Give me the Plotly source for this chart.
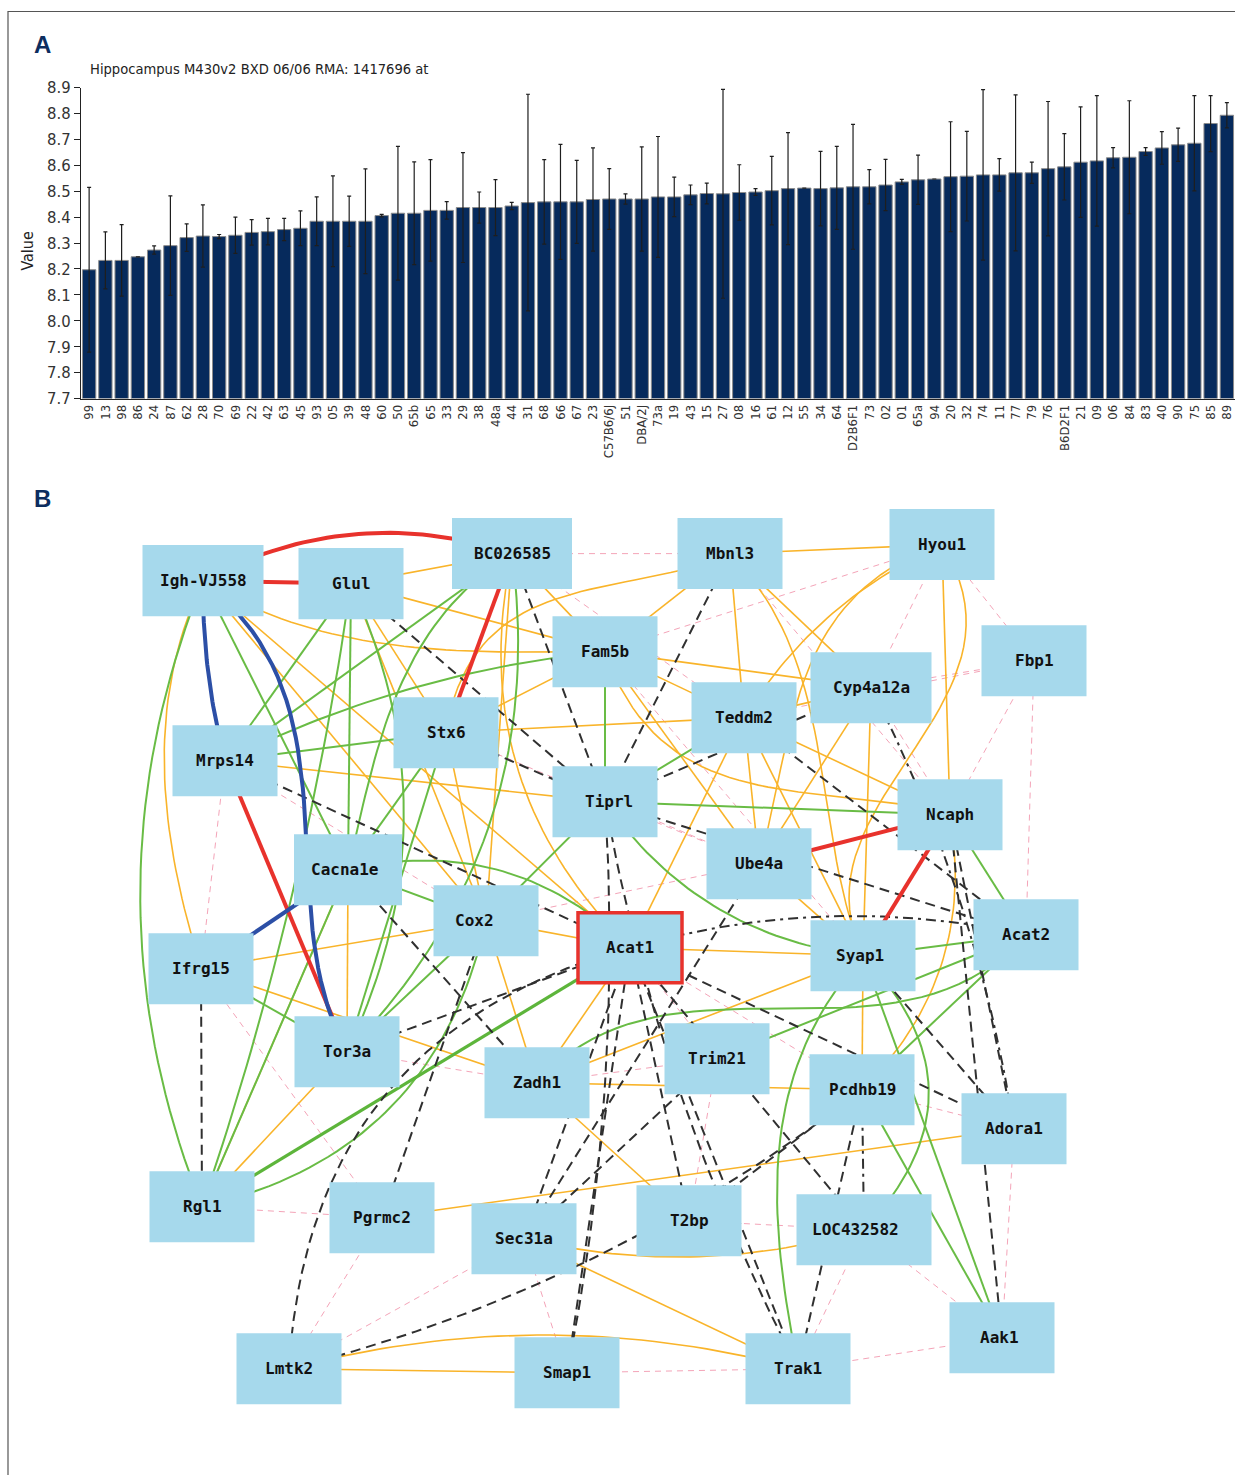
import numpy as np
import plotly.graph_objects as go

# ---------------- Panel A data: expression per strain ----------------
strains = ["99", "13", "98", "86", "24", "87", "62", "28", "70", "69",
           "22", "42", "63", "45", "93", "05", "39", "48", "60", "50",
           "65b", "65", "33", "29", "38", "48a", "44", "31", "68", "66",
           "67", "23", "C57B6/6J", "51", "DBA/2J", "73a", "19", "43", "15", "27",
           "08", "16", "61", "12", "55", "34", "64", "D2B6F1", "73", "02",
           "01", "65a", "94", "20", "32", "74", "11", "77", "79", "76",
           "B6D2F1", "21", "09", "06", "84", "83", "40", "90", "75", "85", "89"]

expression = [8.197, 8.233, 8.233, 8.247, 8.273, 8.290, 8.321, 8.327, 8.325, 8.330,
              8.341, 8.344, 8.352, 8.357, 8.384, 8.384, 8.384, 8.384, 8.406, 8.415,
              8.415, 8.426, 8.426, 8.437, 8.437, 8.437, 8.443, 8.456, 8.459, 8.459,
              8.459, 8.468, 8.470, 8.470, 8.470, 8.478, 8.478, 8.486, 8.491, 8.490,
              8.495, 8.497, 8.502, 8.510, 8.512, 8.510, 8.513, 8.517, 8.517, 8.524,
              8.536, 8.544, 8.547, 8.556, 8.558, 8.563, 8.563, 8.571, 8.571, 8.587,
              8.594, 8.612, 8.617, 8.629, 8.631, 8.653, 8.667, 8.679, 8.685, 8.761, 8.793]

std_err = [0.318, 0.110, 0.138, None, 0.016, 0.192, 0.053, 0.120, 0.008, 0.070,
           0.049, 0.051, 0.043, 0.067, 0.094, 0.175, 0.097, 0.202, 0.005, 0.258,
           0.198, 0.196, 0.034, 0.212, 0.060, 0.108, 0.014, 0.418, 0.163, 0.222,
           0.160, 0.199, 0.117, 0.020, 0.201, 0.233, 0.076, 0.038, 0.040, 0.403,
           0.107, 0.013, 0.132, 0.216, None, 0.144, 0.160, 0.241, 0.066, 0.099,
           0.010, 0.095, None, 0.212, 0.173, 0.329, 0.063, 0.301, 0.041, 0.259,
           0.128, 0.213, 0.252, 0.039, 0.218, 0.015, 0.063, 0.064, 0.184, 0.108, 0.049]

y_ticks = [7.7, 7.8, 7.9, 8.0, 8.1, 8.2, 8.3, 8.4, 8.5, 8.6, 8.7, 8.8, 8.9]

# ---------------- Panel B data: gene network ----------------
genes = ["Igh-VJ558", "Glul", "BC026585", "Mbnl3", "Hyou1", "Fam5b", "Fbp1",
         "Cyp4a12a", "Teddm2", "Stx6", "Mrps14", "Tiprl", "Ncaph", "Ube4a",
         "Cacna1e", "Cox2", "Acat1", "Syap1", "Acat2", "Ifrg15", "Tor3a",
         "Zadh1", "Trim21", "Pcdhb19", "Adora1", "Rgl1", "Pgrmc2", "Sec31a",
         "T2bp", "LOC432582", "Aak1", "Lmtk2", "Smap1", "Trak1"]
focus_gene = "Acat1"

# relation kinds: strong positive (red), strong negative (blue),
# moderate positive (green), weak positive (orange), negative (black dash),
# weak negative (pink dash)
edges = [
    # strong
    ("Igh-VJ558", "BC026585", "red"), ("Igh-VJ558", "Glul", "red"),
    ("BC026585", "Stx6", "red"), ("Mrps14", "Tor3a", "red"),
    ("Ube4a", "Ncaph", "red"), ("Ncaph", "Syap1", "red"),
    ("Igh-VJ558", "Mrps14", "blue"), ("Igh-VJ558", "Tor3a", "blue"),
    ("Ifrg15", "Cacna1e", "blue"),
    # green
    ("Igh-VJ558", "Rgl1", "green"), ("Igh-VJ558", "Cacna1e", "green"),
    ("Glul", "Mrps14", "green"), ("Glul", "Cacna1e", "green"),
    ("Glul", "Rgl1", "green"), ("Glul", "Tor3a", "green"),
    ("Cacna1e", "Rgl1", "green"),
    ("BC026585", "Mrps14", "green"), ("BC026585", "Cacna1e", "green"),
    ("BC026585", "Tor3a", "green"), ("Fam5b", "Mrps14", "green"),
    ("Stx6", "Mrps14", "green"), ("Stx6", "Tor3a", "green"),
    ("Stx6", "Cacna1e", "green"), ("Fam5b", "Tiprl", "green"),
    ("Tiprl", "Ncaph", "green"), ("Tiprl", "Cox2", "green"),
    ("Cacna1e", "Acat1", "green"), ("Cacna1e", "Cox2", "green"),
    ("Teddm2", "Tiprl", "green"), ("Tiprl", "Syap1", "green"),
    ("Syap1", "Acat2", "green"), ("Ncaph", "Acat2", "green"),
    ("Rgl1", "Acat1", "green2"), ("Tor3a", "Ifrg15", "green"),
    ("Tor3a", "Cox2", "green"), ("Cox2", "Rgl1", "green"),
    ("Zadh1", "Acat2", "green"), ("Trim21", "Acat2", "green"),
    ("Syap1", "Trak1", "green"), ("Syap1", "Aak1", "green"),
    ("Pcdhb19", "Aak1", "green"), ("LOC432582", "Syap1", "green"),
    ("Pcdhb19", "Acat2", "green"),
    # orange
    ("Glul", "BC026585", "orange"), ("Mbnl3", "Hyou1", "orange"),
    ("Mbnl3", "Stx6", "orange"), ("Mbnl3", "Fam5b", "orange"),
    ("Mbnl3", "Teddm2", "orange"), ("Mbnl3", "Syap1", "orange"),
    ("Mbnl3", "Cyp4a12a", "orange"), ("Hyou1", "Teddm2", "orange"),
    ("Hyou1", "Ube4a", "orange"), ("Hyou1", "Ncaph", "orange"),
    ("Hyou1", "Syap1", "orange"), ("Fam5b", "Cyp4a12a", "orange"),
    ("Fam5b", "Teddm2", "orange"), ("Fam5b", "Ncaph", "orange"),
    ("Fam5b", "Ube4a", "orange"), ("Stx6", "Teddm2", "orange"),
    ("Teddm2", "Cyp4a12a", "orange"), ("Teddm2", "Ncaph", "orange"),
    ("Teddm2", "Acat1", "orange"), ("Teddm2", "Syap1", "orange"),
    ("Teddm2", "Ube4a", "orange"), ("Cyp4a12a", "Ube4a", "orange"),
    ("Cyp4a12a", "Syap1", "orange"), ("Igh-VJ558", "Fam5b", "orange"),
    ("Mrps14", "Tiprl", "orange"), ("Igh-VJ558", "Acat1", "orange"),
    ("Igh-VJ558", "Cox2", "orange"), ("Igh-VJ558", "Ifrg15", "orange"),
    ("Glul", "Stx6", "orange"), ("Glul", "Fam5b", "orange"),
    ("Glul", "Cox2", "orange"), ("BC026585", "Fam5b", "orange"),
    ("BC026585", "Acat1", "orange"), ("BC026585", "Cox2", "orange"),
    ("Stx6", "Fam5b", "orange"), ("Stx6", "Cox2", "orange"),
    ("Cacna1e", "Tor3a", "orange"), ("Cacna1e", "Rgl1", "orange"),
    ("Tor3a", "Rgl1", "orange"), ("Ifrg15", "Cox2", "orange"),
    ("Ifrg15", "Zadh1", "orange"), ("Cox2", "Acat1", "orange"),
    ("Cox2", "Zadh1", "orange"), ("Acat1", "Zadh1", "orange"),
    ("Acat1", "Syap1", "orange"), ("Zadh1", "Pcdhb19", "orange"),
    ("Zadh1", "T2bp", "orange"), ("Pgrmc2", "Adora1", "orange"),
    ("Sec31a", "LOC432582", "orange"), ("Sec31a", "Trak1", "orange"),
    ("Lmtk2", "Trak1", "orange"), ("Lmtk2", "Smap1", "orange"),
    ("Syap1", "Pcdhb19", "orange"), ("Zadh1", "Syap1", "orange"),
    ("Ncaph", "Pcdhb19", "orange"), ("Ube4a", "Syap1", "orange"),
    # black dashed
    ("Glul", "Tiprl", "black"), ("BC026585", "Tiprl", "black"),
    ("Mbnl3", "Tiprl", "black"), ("Mrps14", "Acat1", "black"),
    ("Stx6", "Tiprl", "black"), ("Cox2", "Pgrmc2", "black"),
    ("Cacna1e", "Zadh1", "black"), ("Tor3a", "Acat1", "black"),
    ("Ifrg15", "Rgl1", "black"), ("Lmtk2", "Acat1", "black"),
    ("Lmtk2", "Pcdhb19", "black"), ("Sec31a", "Acat1", "black"),
    ("Smap1", "Acat1", "black"), ("Acat1", "Trak1", "black"),
    ("Acat1", "Adora1", "black"), ("Acat1", "Acat2", "dashdot"),
    ("Tiprl", "Acat2", "black"), ("Tiprl", "Cyp4a12a", "black"),
    ("Teddm2", "Acat2", "black"), ("Cyp4a12a", "Adora1", "dashdot"),
    ("Ncaph", "Adora1", "black"), ("Ncaph", "Aak1", "black"),
    ("Pcdhb19", "LOC432582", "dashdot"), ("Syap1", "Adora1", "black"),
    ("Ube4a", "Sec31a", "black"), ("T2bp", "Pcdhb19", "black"),
    ("Trak1", "Pcdhb19", "black"), ("Acat1", "LOC432582", "black"),
    ("Acat1", "T2bp", "black"), ("Sec31a", "Trim21", "black"),
    ("Smap1", "Tiprl", "black"), ("Trak1", "Tiprl", "black"),
    # pink dashed
    ("Rgl1", "Pgrmc2", "pink"), ("Trak1", "Aak1", "pink"),
    ("Smap1", "Trak1", "pink"), ("Lmtk2", "Sec31a", "pink"),
    ("Adora1", "Aak1", "pink"), ("LOC432582", "Aak1", "pink"),
    ("LOC432582", "Trak1", "pink"), ("Fbp1", "Ncaph", "pink"),
    ("Fbp1", "Teddm2", "pink"), ("Fbp1", "Acat2", "pink"),
    ("Hyou1", "Fam5b", "pink"), ("Mbnl3", "Ncaph", "pink"),
    ("BC026585", "Mbnl3", "pink"), ("Tiprl", "Ube4a", "pink"),
    ("Cox2", "Tor3a", "pink"), ("Ifrg15", "Mrps14", "pink"),
    ("Cacna1e", "Ifrg15", "pink"), ("Sec31a", "Smap1", "pink"),
    ("Acat1", "Trim21", "pink"), ("Trim21", "T2bp", "pink"),
    ("Pcdhb19", "Adora1", "pink"), ("Hyou1", "Cyp4a12a", "pink"),
    ("Stx6", "Ube4a", "pink"), ("Fam5b", "Syap1", "pink"),
    ("Cox2", "Ube4a", "pink"), ("Zadh1", "Trim21", "pink"),
    ("Pgrmc2", "Lmtk2", "pink"), ("Cyp4a12a", "Ncaph", "pink"),
    ("Ifrg15", "Pgrmc2", "pink"), ("Mrps14", "Cox2", "pink"),
    ("BC026585", "Teddm2", "pink"), ("T2bp", "LOC432582", "pink"),
    ("Fbp1", "Cyp4a12a", "pink"), ("Hyou1", "Fbp1", "pink"),
    ("Acat1", "Pcdhb19", "pink"), ("Tor3a", "Zadh1", "pink"),
]

# ---------------- Network layout (screen units, y downward) ----------------
node_pos = {
    "Igh-VJ558": (203, 580), "Glul": (351, 583), "BC026585": (512, 553),
    "Mbnl3": (730, 553), "Hyou1": (942, 544), "Fam5b": (605, 651),
    "Fbp1": (1034, 660), "Cyp4a12a": (871, 687), "Teddm2": (744, 717),
    "Stx6": (446, 732), "Mrps14": (225, 760), "Tiprl": (605, 801),
    "Ncaph": (950, 814), "Ube4a": (759, 863), "Cacna1e": (348, 869),
    "Cox2": (486, 920), "Acat1": (630, 947), "Syap1": (863, 955),
    "Acat2": (1026, 934), "Ifrg15": (201, 968), "Tor3a": (347, 1051),
    "Zadh1": (537, 1082), "Trim21": (717, 1058), "Pcdhb19": (862, 1089),
    "Adora1": (1014, 1128), "Rgl1": (202, 1206), "Pgrmc2": (382, 1217),
    "Sec31a": (524, 1238), "T2bp": (689, 1220), "LOC432582": (864, 1229),
    "Aak1": (1002, 1337), "Lmtk2": (289, 1368), "Smap1": (567, 1372),
    "Trak1": (798, 1368),
}
node_width = {"Igh-VJ558": 121, "BC026585": 120, "Cyp4a12a": 121,
              "LOC432582": 135, "Cacna1e": 108, "Acat1": 104}
node_height = {"Acat1": 70}
label_dx = {"Cox2": -12, "LOC432582": -9, "Cacna1e": -4, "Syap1": -3,
            "Aak1": -3, "Tiprl": 4}
# perpendicular offsets of cubic control points for curved edges
edge_bend = {
    ("Igh-VJ558", "BC026585"): (-44, -44),
    ("Igh-VJ558", "Mrps14"): (8, 8),
    ("Igh-VJ558", "Tor3a"): (-116, 34),
    ("Igh-VJ558", "Rgl1"): (83, 83),
    ("Glul", "Rgl1"): (-20, -20),
    ("Glul", "Tor3a"): (-73, -73),
    ("BC026585", "Cacna1e"): (70, 30),
    ("BC026585", "Tor3a"): (-85, -85),
    ("Fam5b", "Mrps14"): (24, 24),
    ("Cacna1e", "Acat1"): (-53, -53),
    ("Tiprl", "Syap1"): (45, 45),
    ("Cox2", "Rgl1"): (-85, -85),
    ("Zadh1", "Acat2"): (-103, 103),
    ("Syap1", "Trak1"): (90, 50),
    ("LOC432582", "Syap1"): (87, 87),
    ("Mbnl3", "Stx6"): (15, 128),
    ("Mbnl3", "Syap1"): (-70, 10),
    ("Hyou1", "Teddm2"): (27, 27),
    ("Hyou1", "Ube4a"): (110, 30),
    ("Hyou1", "Syap1"): (-130, 103),
    ("Fam5b", "Ncaph"): (130, 20),
    ("Igh-VJ558", "Fam5b"): (55, 25),
    ("Igh-VJ558", "Ifrg15"): (60, 40),
    ("BC026585", "Acat1"): (75, 75),
    ("Sec31a", "LOC432582"): (30, 30),
    ("Lmtk2", "Trak1"): (-45, -45),
    ("Ncaph", "Pcdhb19"): (-50, -50),
    ("Lmtk2", "Acat1"): (-130, -130),
    ("Lmtk2", "Pcdhb19"): (45, 45),
    ("Acat1", "Acat2"): (-33, -33),
    ("Cyp4a12a", "Adora1"): (-25, -25),
    ("Trak1", "Tiprl"): (-30, -30),
    ("Smap1", "Tiprl"): (25, 25),
}

edge_style = {
    "pink": dict(color="#f4a4b8", width=1, dash="6px,5px"),
    "orange": dict(color="#f9b42a", width=1.6),
    "green": dict(color="#69bc45", width=2),
    "green2": dict(color="#5db53b", width=3.2),
    "black": dict(color="#303030", width=2, dash="10px,6px"),
    "dashdot": dict(color="#303030", width=2, dash="10px,5px,3px,5px"),
    "red": dict(color="#e8322c", width=4),
    "blue": dict(color="#2c4fa6", width=4),
}
draw_order = ["pink", "orange", "green", "green2", "black", "dashdot", "red", "blue"]

# Screen placement: the page is shown with a small top offset and a slight
# vertical squeeze, so screen rows Y map to figure rows (Y - TOP) / SY.
TOP, SY = 8.5, 0.987
FIG_W, FIG_H = 1235, 1485
BAR_COLOR = "#062a5c"
NARROW = "Liberation Sans Narrow, DejaVu Sans Condensed, Arial Narrow, sans-serif"


def px(X):
    return X / FIG_W


def py(Y):
    return 1 - ((Y - TOP) / SY) / FIG_H


def edge_path(a, b, bend):
    p0 = np.array(node_pos[a], float)
    p3 = np.array(node_pos[b], float)
    d = p3 - p0
    n = np.array([-d[1], d[0]]) / np.hypot(*d)
    k1, k2 = bend
    p1 = p0 + d / 3 + k1 * n
    p2 = p0 + 2 * d / 3 + k2 * n
    t = np.linspace(0, 1, 40)[:, None]
    pts = ((1 - t) ** 3) * p0 + 3 * t * (1 - t) ** 2 * p1 + 3 * t ** 2 * (1 - t) * p2 + t ** 3 * p3
    return pts[:, 0], pts[:, 1]


fig = go.Figure()

# ---------------- Panel A ----------------
fig.add_trace(go.Bar(
    x=strains, y=[v - 7.7 for v in expression], base=7.7,
    marker=dict(color=BAR_COLOR, line=dict(color="#8c8c8c", width=1)),
    width=0.82,
    error_y=dict(type="data", array=std_err, symmetric=True,
                 color="#1e1e1e", thickness=1.2, width=2),
    xaxis="x", yaxis="y", hoverinfo="skip", showlegend=False,
))

fig.update_layout(
    xaxis=dict(domain=[px(81), 1.0], type="category", range=[-0.5, 70.5],
               tickangle=-90, tickfont=dict(family=NARROW, size=13, color="#333"),
               showline=True, linecolor="#222", linewidth=1.2, ticks="",
               showgrid=False, zeroline=False, anchor="y"),
    yaxis=dict(domain=[py(398), py(87)], range=[7.7, 8.9],
               tickvals=y_ticks, tickformat=".1f",
               tickfont=dict(family=NARROW, size=16.5, color="#333"),
               ticks="outside", ticklen=6, tickcolor="#222",
               showline=True, linecolor="#222", linewidth=1.2,
               showgrid=False, zeroline=False, anchor="x"),
)

# ---------------- Panel B ----------------
for kind in draw_order:
    xs, ys = [], []
    for a, b, k in edges:
        if k != kind:
            continue
        bx, by = edge_path(a, b, edge_bend.get((a, b), (0, 0)))
        xs += list(bx) + [None]
        ys += list(by) + [None]
    st = edge_style[kind]
    fig.add_trace(go.Scatter(
        x=xs, y=ys, mode="lines", xaxis="x2", yaxis="y2",
        line=dict(color=st["color"], width=st["width"], dash=st.get("dash", "solid")),
        hoverinfo="skip", showlegend=False,
    ))

shapes = []
annotations = []
for g in genes:
    cx, cy = node_pos[g]
    w = node_width.get(g, 105)
    h = node_height.get(g, 71)
    is_focus = g == focus_gene
    shapes.append(dict(
        type="rect", xref="x2", yref="y2", layer="above",
        x0=cx - w / 2, x1=cx + w / 2, y0=cy - h / 2, y1=cy + h / 2,
        fillcolor="#a6d9ec",
        line=dict(color="#e8322c" if is_focus else "rgba(0,0,0,0)", width=3.5 if is_focus else 0),
    ))
    annotations.append(dict(
        x=cx + label_dx.get(g, 0), y=cy, xref="x2", yref="y2", text="<b>%s</b>" % g,
        showarrow=False, xanchor="center", yanchor="middle",
        font=dict(family="DejaVu Sans Mono, Liberation Mono, monospace", size=16, color="#111"),
    ))

# frame lines along the left and top edges
shapes.append(dict(type="path", xref="paper", yref="paper", layer="above",
                   path="M %f,0 L %f,%f L 1,%f" % (px(8), px(8), py(11), py(11)),
                   line=dict(color="#555", width=1.2)))

# titles and panel letters
annotations += [
    dict(x=px(42), y=py(44), xref="paper", yref="paper", text="<b>A</b>",
         showarrow=False, xanchor="center", yanchor="middle",
         font=dict(family="Liberation Sans, Arial, sans-serif", size=24, color="#0d2d5f")),
    dict(x=px(42), y=py(498), xref="paper", yref="paper", text="<b>B</b>",
         showarrow=False, xanchor="center", yanchor="middle",
         font=dict(family="Liberation Sans, Arial, sans-serif", size=24, color="#0d2d5f")),
    dict(x=px(88), y=py(68), xref="paper", yref="paper",
         text="Hippocampus M430v2 BXD 06/06 RMA: 1417696 at",
         showarrow=False, xanchor="left", yanchor="middle",
         font=dict(family=NARROW, size=14.6, color="#222")),
    dict(x=px(28), y=py(250), xref="paper", yref="paper", text="Value",
         showarrow=False, xanchor="center", yanchor="middle", textangle=-90,
         font=dict(family=NARROW, size=16, color="#222")),
]

fig.update_layout(
    xaxis2=dict(domain=[0, 1], range=[0, FIG_W], visible=False, anchor="y2", fixedrange=True),
    yaxis2=dict(domain=[0, 1], range=[TOP + SY * FIG_H, TOP], visible=False, anchor="x2",
                fixedrange=True),
    width=FIG_W, height=FIG_H,
    margin=dict(l=0, r=0, t=0, b=0),
    paper_bgcolor="white", plot_bgcolor="rgba(0,0,0,0)",
    shapes=shapes, annotations=annotations,
    showlegend=False, bargap=0.18,
)

fig.write_html("out.html")
